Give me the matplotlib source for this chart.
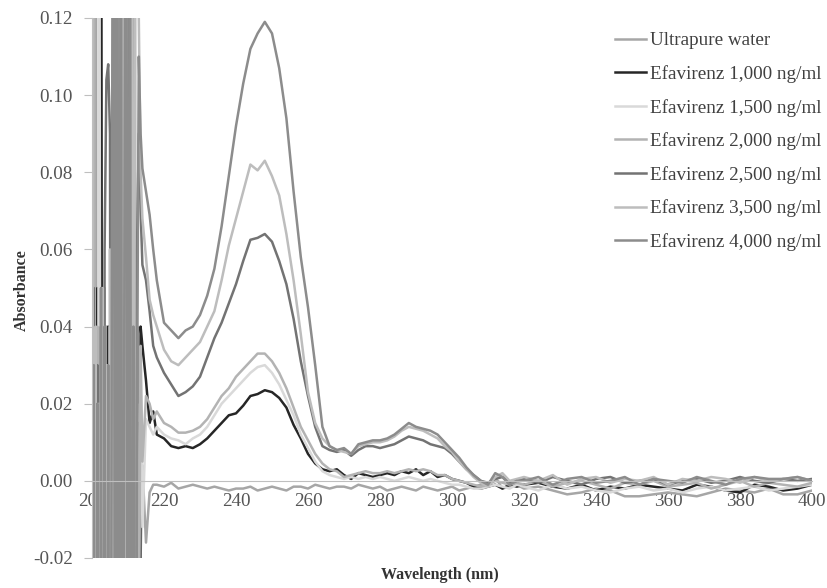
import numpy as np
import matplotlib
matplotlib.use("Agg")
import matplotlib.pyplot as plt
from matplotlib.ticker import FormatStrFormatter, MultipleLocator

plt.rcParams['font.family'] = ['Liberation Serif', 'DejaVu Serif']
plt.rcParams['axes.unicode_minus'] = False

# wavelength grid: 0.5 nm in the noisy start, then 1 nm, 2 nm through the bands, 4 nm in the tail
wavelength = ([200 + 0.5 * i for i in range(28)] + list(range(214, 218))
              + list(range(218, 320, 2)) + list(range(320, 401, 4)))

labels = ["Ultrapure water", "Efavirenz 1,000 ng/ml", "Efavirenz 1,500 ng/ml",
          "Efavirenz 2,000 ng/ml", "Efavirenz 2,500 ng/ml", "Efavirenz 3,500 ng/ml",
          "Efavirenz 4,000 ng/ml"]

water = ([0.07, -0.25, 0.25, -0.25, 0.03, -0.25, 0.02, -0.25, 0.04, -0.25, 0.01, -0.25,
          0.25, -0.25, 0.05, -0.25, 0.25, -0.25, 0.03, -0.25, 0.02, -0.25, 0.25, -0.25,
          0.01, -0.25, 0.015, -0.02]
         + [0.004, -0.016, -0.003, -0.001]
         + [-0.001, -0.0015, -0.0005, -0.002, -0.0015, -0.001, -0.0015, -0.002, -0.0015, -0.002,
            -0.0025, -0.002, -0.002, -0.0015, -0.0025, -0.002, -0.0015, -0.002, -0.0025, -0.0015,
            -0.0015, -0.002, -0.001, -0.0015, -0.002, -0.0015, -0.0015, -0.002, -0.001, -0.0015,
            -0.002, -0.0015, -0.0025, -0.002, -0.0015, -0.002, -0.0025, -0.0015, -0.002, -0.0025,
            -0.002, -0.0015, -0.0025, -0.002, -0.0015, -0.001, -0.0015, 0.001, -0.002, -0.0015,
            -0.001]
         + [-0.002, -0.0015, -0.0025, -0.0035, -0.003, -0.002, -0.0025, -0.004, -0.004, -0.0035,
            -0.003, -0.0035, -0.004, -0.003, -0.002, -0.0025, -0.003, -0.002, -0.0035, -0.0035,
            -0.0025])

efv_1000 = ([-0.25, 0.03, -0.25, 0.05, -0.25, 0.25, -0.25, 0.02, -0.25, 0.04, -0.25, 0.02,
             -0.25, 0.25, -0.25, 0.066, -0.25, 0.25, -0.25, 0.03, -0.25, 0.25, -0.25, 0.05,
             -0.25, 0.04, -0.25, 0.04]
            + [0.035, 0.026, 0.015, 0.018]
            + [0.012, 0.011, 0.009, 0.0085, 0.009, 0.0085, 0.0095, 0.011, 0.013, 0.015,
               0.017, 0.0175, 0.0195, 0.022, 0.0225, 0.0235, 0.023, 0.0215, 0.019, 0.0145,
               0.011, 0.007, 0.0045, 0.003, 0.0025, 0.003, 0.0015, 0.0005, 0.002, 0.0015,
               0.001, 0.0015, 0.002, 0.0015, 0.0025, 0.002, 0.003, 0.0015, 0.0025, 0.001,
               0.0015, 0.0005, 0.0, -0.0005, -0.0015, -0.002, -0.0015, -0.001, -0.002, -0.001,
               -0.0015]
            + [-0.001, -0.0005, -0.0015, -0.002, -0.001, -0.0025, -0.0015, -0.002, -0.001, -0.0015,
               -0.002, -0.0025, -0.001, -0.0015, -0.0025, -0.003, -0.001, -0.0015, -0.0025, -0.002,
               -0.001])

efv_1500 = ([0.25, -0.25, 0.02, -0.25, 0.25, -0.25, 0.03, -0.25, 0.01, -0.25, 0.04, -0.25,
             0.06, 0.25, -0.25, 0.25, -0.25, 0.02, 0.25, -0.25, 0.03, -0.25, 0.25, -0.25,
             0.25, -0.25, -0.02, 0.03]
            + [-0.012, 0.016, 0.014, 0.012]
            + [0.014, 0.012, 0.011, 0.0105, 0.0095, 0.011, 0.012, 0.014, 0.017, 0.020,
               0.022, 0.024, 0.026, 0.028, 0.0295, 0.030, 0.028, 0.025, 0.021, 0.017,
               0.012, 0.0085, 0.005, 0.0025, 0.0015, 0.001, 0.0005, 0.001, 0.0005, 0.001,
               0.0005, 0.001, 0.0005, 0.0, 0.0005, 0.001, 0.0005, 0.0, 0.0005, 0.0,
               -0.0005, -0.001, -0.001, -0.0015, -0.002, -0.002, -0.0015, -0.001, -0.0015, -0.002,
               -0.001]
            + [-0.0015, -0.0025, -0.001, -0.002, -0.0015, -0.0025, -0.003, -0.002, -0.0015, -0.0025,
               -0.002, -0.003, -0.002, -0.0015, -0.0025, -0.002, -0.0015, -0.0025, -0.002, -0.0015,
               -0.001])

efv_2000 = ([-0.25, 0.25, -0.25, 0.04, -0.25, 0.02, -0.25, 0.05, -0.25, 0.03, -0.25, 0.01,
             -0.25, 0.25, -0.25, 0.25, -0.25, 0.25, -0.25, 0.04, -0.25, 0.25, -0.25, 0.25,
             -0.25, 0.02, -0.05, 0.035]
            + [0.005, 0.022, 0.02, 0.016]
            + [0.018, 0.015, 0.014, 0.0125, 0.0125, 0.013, 0.014, 0.016, 0.019, 0.022,
               0.024, 0.027, 0.029, 0.031, 0.033, 0.033, 0.031, 0.028, 0.024, 0.019,
               0.014, 0.0105, 0.007, 0.0045, 0.003, 0.0025, 0.001, 0.0015, 0.002, 0.0025,
               0.002, 0.002, 0.0025, 0.002, 0.0025, 0.003, 0.0025, 0.003, 0.0025, 0.0015,
               0.0015, 0.0005, 0.0, -0.0005, -0.001, -0.0015, -0.001, 0.0, -0.0005, -0.001,
               -0.0005]
            + [-0.001, 0.0, -0.0015, -0.0005, 0.0, -0.001, -0.002, -0.0005, -0.001, 0.0,
               -0.0015, -0.001, -0.0005, -0.002, -0.001, 0.0, -0.0015, -0.0005, -0.001, -0.0015,
               -0.0005])

efv_2500 = ([-0.25, 0.05, -0.25, 0.03, -0.25, 0.04, -0.25, 0.06, 0.104, 0.108, 0.09, -0.25,
             0.25, -0.25, 0.25, -0.25, 0.05, -0.25, 0.25, -0.25, 0.04, 0.25, -0.25, 0.25,
             -0.25, 0.06, 0.09, 0.07]
            + [0.056, 0.052, 0.044, 0.035]
            + [0.032, 0.028, 0.025, 0.022, 0.023, 0.0245, 0.027, 0.032, 0.037, 0.041,
               0.046, 0.051, 0.057, 0.0625, 0.063, 0.064, 0.062, 0.057, 0.051, 0.042,
               0.031, 0.022, 0.014, 0.009, 0.008, 0.0075, 0.008, 0.0065, 0.008, 0.009,
               0.009, 0.0085, 0.009, 0.0095, 0.0105, 0.0115, 0.011, 0.0105, 0.0095, 0.009,
               0.0085, 0.007, 0.005, 0.003, 0.0015, 0.0, -0.0005, 0.0005, 0.001, -0.0005,
               0.0]
            + [0.0005, -0.0005, 0.001, 0.0, -0.001, 0.0005, 0.001, -0.0005, 0.0, 0.0005,
               -0.001, 0.0, 0.0005, -0.0005, 0.0, 0.001, 0.0, -0.0005, 0.0005, 0.0,
               0.0005])

efv_3500 = ([0.25, -0.25, 0.04, -0.25, 0.02, -0.25, 0.05, -0.25, 0.03, -0.25, 0.06, -0.25,
             0.25, -0.25, 0.04, 0.25, -0.25, 0.25, -0.25, 0.25, -0.25, 0.05, 0.25, -0.25,
             0.25, 0.25, 0.12, 0.08]
            + [0.068, 0.058, 0.047, 0.043]
            + [0.040, 0.034, 0.031, 0.030, 0.032, 0.034, 0.036, 0.040, 0.044, 0.052,
               0.061, 0.068, 0.075, 0.082, 0.0805, 0.083, 0.079, 0.074, 0.064, 0.052,
               0.038, 0.023, 0.015, 0.011, 0.009, 0.008, 0.0075, 0.007, 0.009, 0.0095,
               0.010, 0.010, 0.0105, 0.0115, 0.013, 0.014, 0.0135, 0.013, 0.012, 0.011,
               0.009, 0.0075, 0.005, 0.003, 0.001, -0.0005, -0.0015, 0.001, 0.002, 0.0,
               0.0005]
            + [0.001, 0.0, 0.0015, -0.001, 0.0005, 0.001, -0.0005, 0.0005, 0.0, 0.001,
               -0.001, 0.0005, 0.0, 0.001, 0.0005, -0.0005, 0.001, 0.0, 0.0005, 0.001,
               0.0])

efv_4000 = ([-0.25, 0.03, -0.25, 0.02, -0.25, 0.05, -0.25, 0.04, -0.25, 0.03, -0.25, 0.05,
             0.25, -0.25, 0.25, -0.25, 0.25, -0.25, 0.06, 0.25, -0.25, 0.25, -0.25, 0.04,
             -0.25, 0.02, 0.11, 0.09]
            + [0.081, 0.075, 0.069, 0.060]
            + [0.052, 0.041, 0.039, 0.037, 0.039, 0.040, 0.043, 0.048, 0.055, 0.066,
               0.079, 0.092, 0.103, 0.112, 0.116, 0.119, 0.116, 0.107, 0.094, 0.075,
               0.058, 0.045, 0.030, 0.014, 0.009, 0.008, 0.0085, 0.007, 0.0095, 0.010,
               0.0105, 0.0105, 0.011, 0.012, 0.0135, 0.015, 0.014, 0.0135, 0.013, 0.012,
               0.010, 0.008, 0.006, 0.0035, 0.0015, 0.0, -0.001, 0.002, 0.001, -0.001,
               0.0]
            + [0.0, 0.001, -0.001, 0.0005, 0.001, -0.0005, 0.0, 0.001, -0.001, 0.0005,
               0.0, -0.0005, 0.001, 0.0, -0.001, 0.0005, 0.001, 0.0005, 0.0005, 0.001,
               0.0])

series = [water, efv_1000, efv_1500, efv_2000, efv_2500, efv_3500, efv_4000]
colors = ['#a6a6a6', '#262626', '#d9d9d9', '#b3b3b3', '#737373', '#bdbdbd', '#8c8c8c']

fig = plt.figure(figsize=(8.28, 5.88), dpi=100, facecolor='white')
ax = fig.add_axes([92/828, 1-558/588, 720/828, 540/588])

for vals, c, lab in zip(series, colors, labels):
    ax.plot(wavelength, vals, color=c, lw=1.8, label=lab, solid_joinstyle='round')

ax.set_xlim(200, 400)
ax.set_ylim(-0.02, 0.12)
ax.xaxis.set_major_locator(MultipleLocator(20))
ax.yaxis.set_major_locator(MultipleLocator(0.02))
ax.yaxis.set_major_formatter(FormatStrFormatter('%.2f'))

for s in ['top', 'right']:
    ax.spines[s].set_visible(False)
ax.spines['bottom'].set_position(('data', 0))
ax.spines['bottom'].set_color('#bfbfbf')
ax.spines['left'].set_color('#bfbfbf')
ax.tick_params(axis='x', length=0, pad=8.5, labelsize=13.8, labelcolor='#555555')
ax.tick_params(axis='y', length=6, color='#bfbfbf', pad=8, labelsize=13.8, labelcolor='#555555')

fig.text(440/828, 1-575/588, "Wavelength (nm)", ha='center', va='center',
         fontsize=11.5, fontweight='bold', color='#333333')
fig.text(22/828, 1-290/588, "Absorbance", ha='center', va='center', rotation=90,
         fontsize=11.5, fontweight='bold', color='#333333')

leg = ax.legend(loc='upper left', bbox_to_anchor=(615/828, 1-32/588),
                bbox_transform=fig.transFigure, frameon=False, fontsize=13.8,
                handlelength=1.6, handletextpad=0.25, labelspacing=0.82,
                borderpad=0, borderaxespad=0)
for t in leg.get_texts():
    t.set_color('#404040')

fig.savefig('out.png', dpi=100, facecolor='white')
